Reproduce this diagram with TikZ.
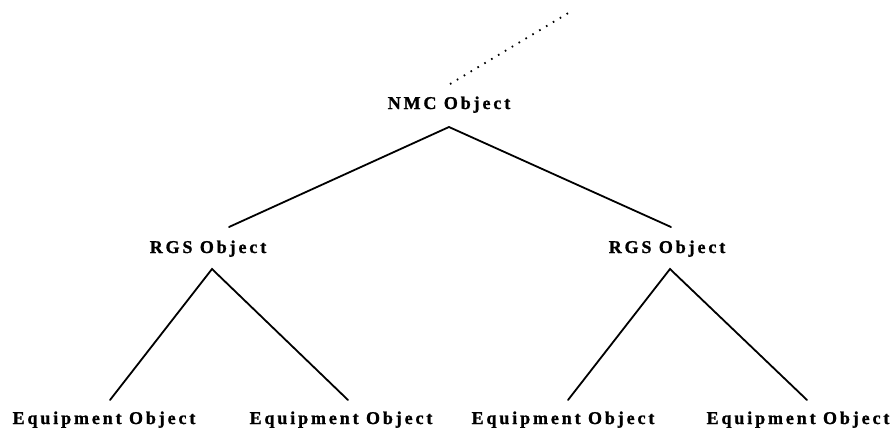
\documentclass[tikz,border=0pt]{standalone}
\usepackage{fontspec}
\setmainfont{Liberation Serif}[LetterSpace=16,BoldFeatures={FakeBold=1.2}]
\begin{document}
\begin{tikzpicture}[x=1pt,y=-1pt,
  lbl/.style={font=\fontsize{18}{20}\selectfont\bfseries, anchor=base, inner sep=0pt},
  edge/.style={line width=1.8pt, line cap=round},
  dots/.style={line width=1.8pt, dash pattern=on 1.6pt off 6.4pt}]
\useasboundingbox (0,0) rectangle (894,432);
\node[lbl] (nmc) at (449,109) {NMC Object};
\node[lbl] (rgsL) at (208,253) {RGS Object};
\node[lbl] (rgsR) at (667,253) {RGS Object};
\node[lbl] (e1) at (104,424) {Equipment Object};
\node[lbl] (e2) at (341,424) {Equipment Object};
\node[lbl] (e3) at (563,424) {Equipment Object};
\node[lbl] (e4) at (798,424) {Equipment Object};
\coordinate (up) at (570,12);
\coordinate (nmcT) at (450,84);
\coordinate (nmcB) at (449,127);
\coordinate (rgsLT) at (229,227);
\coordinate (rgsRT) at (671,227);
\coordinate (rgsLB) at (212,269);
\coordinate (rgsRB) at (670,269);
\coordinate (e1T) at (110,400);
\coordinate (e2T) at (348,400);
\coordinate (e3T) at (568,400);
\coordinate (e4T) at (807,400);
\draw[dots] (nmcT) -- (up);
\draw[edge] (rgsLT) -- (nmcB) -- (rgsRT);
\draw[edge] (e1T) -- (rgsLB) -- (e2T);
\draw[edge] (e3T) -- (rgsRB) -- (e4T);
\end{tikzpicture}
\end{document}
